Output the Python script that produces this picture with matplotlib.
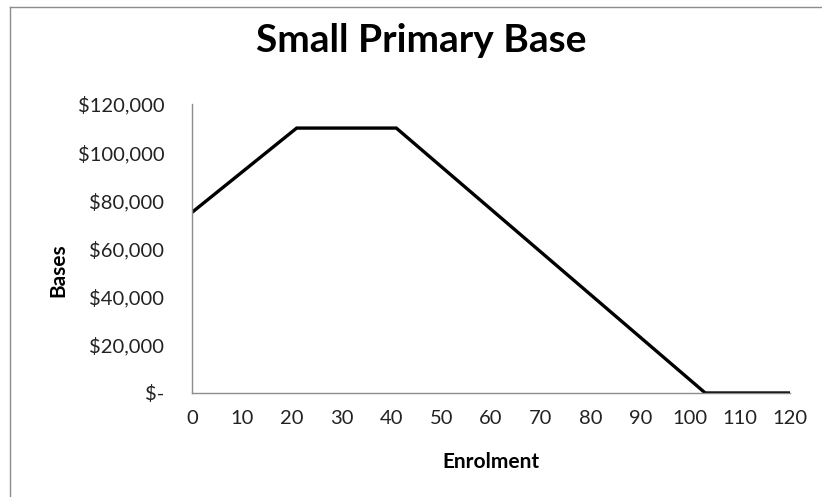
import matplotlib
matplotlib.use('Agg')
import matplotlib.pyplot as plt
from matplotlib.lines import Line2D
from matplotlib.ticker import FuncFormatter

# Datos: puntos de quiebre de la base segun matricula
enrolment = [0, 21, 41, 103, 120]
bases = [75000, 110000, 110000, 0, 0]
x_ticks = [0, 10, 20, 30, 40, 50, 60, 70, 80, 90, 100, 110, 120]
y_ticks = [0, 20000, 40000, 60000, 80000, 100000, 120000]

plt.rcParams['font.family'] = ['Lato', 'DejaVu Sans']

fig = plt.figure(figsize=(8.22, 4.97), dpi=100)
ax = fig.add_axes([192/822, 1 - 393/497, 598/822, 289/497])

# marco del grafico (solo lados izquierdo y superior visibles)
bx, by = 9.5/822, 1 - 6.5/497
fig.add_artist(Line2D([bx, bx], [0, by], transform=fig.transFigure,
                      color='#8c8c8c', linewidth=1))
fig.add_artist(Line2D([bx, 1], [by, by], transform=fig.transFigure,
                      color='#8c8c8c', linewidth=1))

ax.plot(enrolment, bases, color='black', linewidth=2.4, solid_joinstyle='miter')

ax.set_xlim(0, 120)
ax.set_ylim(0, 120000)
ax.set_xticks(x_ticks)
ax.set_yticks(y_ticks)

def money(v, pos):
    if v == 0:
        return '$-'
    return '${:,.0f}'.format(v)

ax.yaxis.set_major_formatter(FuncFormatter(money))
ax.tick_params(length=0, labelsize=14.5, colors='#222222')
ax.tick_params(axis='y', pad=20)
ax.tick_params(axis='x', pad=12)

for s in ['top', 'right']:
    ax.spines[s].set_visible(False)
for s in ['left', 'bottom']:
    ax.spines[s].set_color('#8c8c8c')
    ax.spines[s].set_linewidth(1)

fig.text(421/822, 1 - 40/497, 'Small Primary Base', ha='center', va='center',
         fontsize=28, fontweight='bold')
fig.text(491/822, 1 - 462/497, 'Enrolment', ha='center', va='center',
         fontsize=15, fontweight='bold')
fig.text(58/822, 1 - 270/497, 'Bases', ha='center', va='center',
         fontsize=15, fontweight='bold', rotation=90)

fig.savefig('out.png', dpi=100)
